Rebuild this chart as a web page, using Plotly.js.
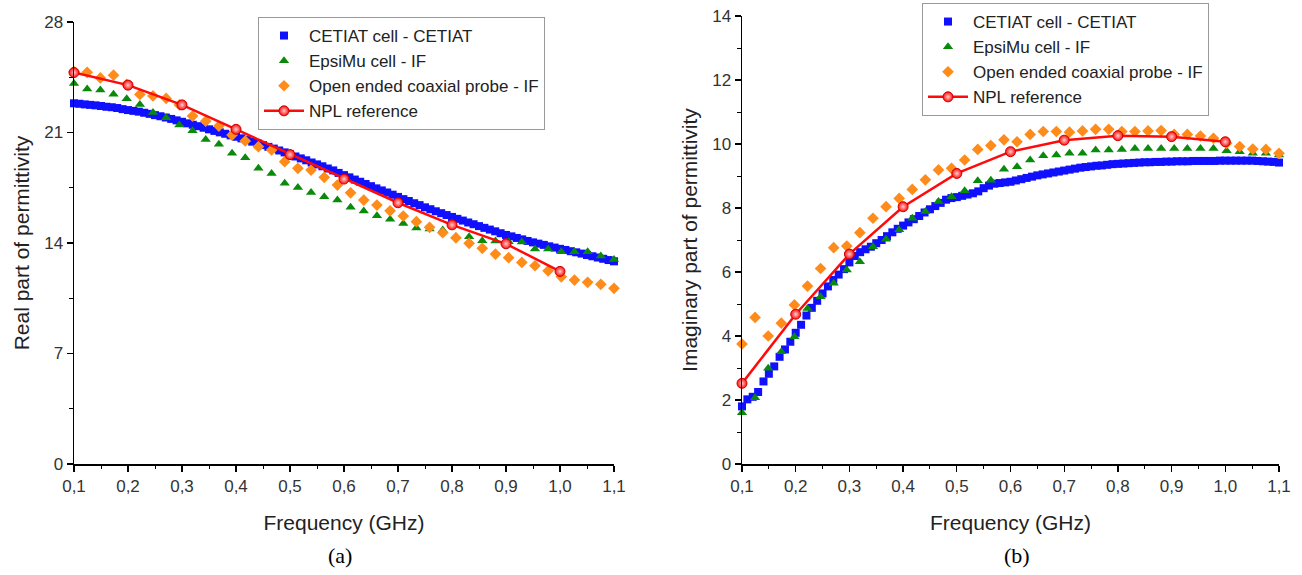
<!DOCTYPE html>
<html>
<head>
<meta charset="utf-8">
<script src="https://cdn.plot.ly/plotly-3.0.1.min.js"></script>
<style>html,body{margin:0;padding:0;background:#fff;}#chart{width:1302px;height:575px;}</style>
</head>
<body>
<div id="chart"></div>
<script>
// ---------- Data ----------
// dense frequency grid for the CETIAT cell (GHz)
const freqDense = [0.10,0.11,0.12,0.13,0.14,0.15,0.16,0.17,0.18,0.19,0.20,0.21,0.22,0.23,0.24,0.25,0.26,0.27,0.28,0.29,0.30,0.31,0.32,0.33,0.34,0.35,0.36,0.37,0.38,0.39,0.40,0.41,0.42,0.43,0.44,0.45,0.46,0.47,0.48,0.49,0.50,0.51,0.52,0.53,0.54,0.55,0.56,0.57,0.58,0.59,0.60,0.61,0.62,0.63,0.64,0.65,0.66,0.67,0.68,0.69,0.70,0.71,0.72,0.73,0.74,0.75,0.76,0.77,0.78,0.79,0.80,0.81,0.82,0.83,0.84,0.85,0.86,0.87,0.88,0.89,0.90,0.91,0.92,0.93,0.94,0.95,0.96,0.97,0.98,0.99,1.00,1.01,1.02,1.03,1.04,1.05,1.06,1.07,1.08,1.09,1.10];
// frequency grid for EpsiMu cell and coaxial probe (GHz)
const freqIF = [0.1000,0.1244,0.1488,0.1732,0.1976,0.2220,0.2463,0.2707,0.2951,0.3195,0.3439,0.3683,0.3927,0.4171,0.4415,0.4659,0.4902,0.5146,0.5390,0.5634,0.5878,0.6122,0.6366,0.6610,0.6854,0.7098,0.7341,0.7585,0.7829,0.8073,0.8317,0.8561,0.8805,0.9049,0.9293,0.9537,0.9780,1.0024,1.0268,1.0512,1.0756,1.1000];
// NPL reference frequencies (GHz)
const freqNPL = [0.1,0.2,0.3,0.4,0.5,0.6,0.7,0.8,0.9,1.0];

// (a) Real part of permittivity
const realCETIAT = [22.85,22.82,22.78,22.75,22.72,22.68,22.63,22.60,22.55,22.48,22.42,22.37,22.32,22.25,22.18,22.10,22.03,21.95,21.86,21.77,21.68,21.58,21.49,21.40,21.30,21.20,21.10,21.01,20.92,20.82,20.73,20.63,20.52,20.42,20.31,20.20,20.09,19.98,19.86,19.74,19.62,19.48,19.36,19.24,19.10,18.98,18.86,18.72,18.60,18.44,18.30,18.16,18.02,17.88,17.74,17.60,17.46,17.33,17.20,17.06,16.92,16.78,16.66,16.52,16.40,16.26,16.14,16.01,15.89,15.77,15.65,15.53,15.42,15.30,15.19,15.07,14.96,14.85,14.74,14.62,14.51,14.42,14.32,14.23,14.13,14.04,13.96,13.88,13.79,13.71,13.63,13.56,13.48,13.41,13.33,13.24,13.16,13.08,13.00,12.92,12.84];
const realEpsiMu = [24.11,23.75,23.69,23.43,23.14,22.78,22.27,21.93,21.47,21.11,20.56,20.25,19.68,19.40,18.73,18.41,17.78,17.52,17.20,16.93,16.72,16.26,16.02,15.73,15.50,15.24,14.95,14.88,14.82,14.40,14.40,14.14,14.12,14.08,14.06,13.62,13.62,13.45,13.45,13.45,13.17,12.95];
const realProbe = [24.85,24.81,24.46,24.63,24.05,23.41,23.32,23.16,22.75,22.04,21.72,21.41,20.84,20.46,20.10,19.89,19.15,18.73,18.62,18.16,17.67,17.18,16.72,16.40,16.04,15.71,15.35,14.99,14.65,14.33,13.98,13.66,13.30,13.07,12.77,12.56,12.24,11.86,11.65,11.51,11.38,11.13];
const realNPL = [24.8,24.0,22.75,21.2,19.6,18.05,16.55,15.15,13.95,12.2];

// (b) Imaginary part of permittivity
const imagCETIAT = [1.80,2.02,2.10,2.25,2.58,2.82,3.05,3.35,3.58,3.82,4.10,4.35,4.64,4.88,5.10,5.33,5.55,5.75,5.92,6.09,6.30,6.50,6.62,6.71,6.79,6.90,7.00,7.12,7.24,7.35,7.45,7.55,7.65,7.75,7.86,7.96,8.06,8.16,8.26,8.31,8.34,8.38,8.42,8.46,8.52,8.62,8.70,8.76,8.78,8.80,8.82,8.86,8.90,8.94,8.98,9.02,9.05,9.08,9.11,9.14,9.17,9.20,9.23,9.26,9.28,9.30,9.32,9.33,9.35,9.37,9.38,9.39,9.40,9.41,9.42,9.43,9.43,9.44,9.44,9.45,9.45,9.46,9.46,9.46,9.47,9.47,9.47,9.47,9.47,9.48,9.48,9.48,9.48,9.48,9.48,9.48,9.47,9.46,9.45,9.44,9.42];
const imagEpsiMu = [1.60,2.07,2.99,3.51,3.98,4.86,5.23,5.65,6.06,6.32,6.79,7.02,7.32,7.68,7.89,8.20,8.35,8.54,8.85,8.87,9.21,9.29,9.50,9.63,9.66,9.71,9.71,9.81,9.81,9.83,9.86,9.86,9.86,9.86,9.86,9.86,9.86,9.79,9.76,9.71,9.71,9.66];
const imagProbe = [3.75,4.58,4.00,4.40,4.97,5.56,6.11,6.76,6.81,7.23,7.68,8.04,8.30,8.58,8.88,9.19,9.24,9.50,9.83,9.95,10.13,10.07,10.30,10.39,10.39,10.37,10.41,10.46,10.46,10.39,10.39,10.41,10.42,10.30,10.30,10.25,10.18,10.02,9.92,9.84,9.83,9.71];
const imagNPL = [2.52,4.68,6.56,8.04,9.08,9.76,10.12,10.26,10.23,10.07];

const seriesNames = ['CETIAT cell - CETIAT','EpsiMu cell - IF','Open ended coaxial probe - IF','NPL reference'];

// ---------- Styles ----------
const FONT = 'Liberation Sans, Arial, sans-serif';
const BLUE = '#1010ff', GREEN = '#0a8a0a', ORANGE = '#ff8c1a', RED = '#ff0a0a';

function makeTraces(cet, eps, probe, npl, xa, ya, leg) {
  return [
    {x: freqDense, y: cet, name: seriesNames[0], mode: 'markers', xaxis: xa, yaxis: ya, legend: leg,
     marker: {symbol: 'square', size: 8, color: BLUE}, cliponaxis: false},
    {x: freqIF, y: eps, name: seriesNames[1], mode: 'markers', xaxis: xa, yaxis: ya, legend: leg,
     marker: {symbol: 'triangle-up', size: 9, color: GREEN}, cliponaxis: false},
    {x: freqIF, y: probe, name: seriesNames[2], mode: 'markers', xaxis: xa, yaxis: ya, legend: leg,
     marker: {symbol: 'diamond', size: 9, color: ORANGE}, cliponaxis: false},
    {x: freqNPL, y: npl, name: seriesNames[3], mode: 'lines+markers', xaxis: xa, yaxis: ya, legend: leg,
     line: {color: RED, width: 2.5},
     marker: {symbol: 'circle', size: 10, color: RED, line: {color: '#d00000', width: 1},
              gradient: {type: 'radial', color: '#ffd0d0'}}, cliponaxis: false}
  ];
}

const data = [].concat(
  makeTraces(realCETIAT, realEpsiMu, realProbe, realNPL, 'x', 'y', 'legend'),
  makeTraces(imagCETIAT, imagEpsiMu, imagProbe, imagNPL, 'x2', 'y2', 'legend2')
);

const W = 1302, H = 575;
function xAxis(dom, anchor) {
  return {
    domain: dom, anchor: anchor, range: [0.1, 1.1], dtick: 0.1, tick0: 0.1, tickformat: '.1f',
    showline: true, linecolor: '#000', linewidth: 1.5, mirror: false, showgrid: false, zeroline: false,
    ticks: 'outside', ticklen: 6, tickwidth: 1.2, tickcolor: '#000',
    minor: {dtick: 0.05, tick0: 0.1, ticks: 'outside', ticklen: 3.5, tickwidth: 1, tickcolor: '#000', showgrid: false},
    tickfont: {family: FONT, size: 17, color: '#333'},
    title: {text: 'Frequency (GHz)', font: {family: FONT, size: 21, color: '#222'}, standoff: 20},
    automargin: false, fixedrange: true
  };
}
function yAxis(dom, anchor, range, dt, mdt, title, standoff) {
  return {
    domain: dom, anchor: anchor, range: range, dtick: dt, tick0: 0,
    showline: true, linecolor: '#000', linewidth: 1.5, mirror: false, showgrid: false, zeroline: false,
    ticks: 'outside', ticklen: 6, tickwidth: 1.2, tickcolor: '#000',
    minor: {dtick: mdt, tick0: 0, ticks: 'outside', ticklen: 3.5, tickwidth: 1, tickcolor: '#000', showgrid: false},
    tickfont: {family: FONT, size: 17, color: '#333'},
    title: {text: title, font: {family: FONT, size: 21, color: '#222'}, standoff: standoff},
    automargin: false, fixedrange: true
  };
}

const layout = {
  width: W, height: H,
  margin: {l: 0, r: 0, t: 0, b: 0},
  paper_bgcolor: '#fff', plot_bgcolor: '#fff',
  separators: ',.',
  showlegend: true,
  xaxis: xAxis([74 / W, 614 / W], 'y'),
  yaxis: yAxis([1 - 464 / H, 1 - 22 / H], 'x', [0, 28], 7, 3.5, 'Real part of permittivity', 9),
  xaxis2: xAxis([742 / W, 1279 / W], 'y2'),
  yaxis2: yAxis([1 - 464 / H, 1 - 16 / H], 'x2', [0, 14], 2, 1, 'Imaginary part of permittivity', 9),
  legend: {x: 258 / W, y: 1 - 17 / H, xanchor: 'left', yanchor: 'top',
           bgcolor: '#fff', bordercolor: '#999', borderwidth: 1,
           font: {family: FONT, size: 17, color: '#222'}, itemwidth: 40, tracegroupgap: 0},
  legend2: {x: 922 / W, y: 1 - 3 / H, xanchor: 'left', yanchor: 'top',
            bgcolor: '#fff', bordercolor: '#999', borderwidth: 1,
            font: {family: FONT, size: 17, color: '#222'}, itemwidth: 40, tracegroupgap: 0},
  annotations: [
    {text: '(a)', xref: 'paper', yref: 'paper', x: 340 / W, y: 1 - 555 / H, xanchor: 'center', yanchor: 'middle',
     showarrow: false, font: {family: 'Liberation Serif, Times New Roman, serif', size: 22, color: '#000'}},
    {text: '(b)', xref: 'paper', yref: 'paper', x: 1017 / W, y: 1 - 555 / H, xanchor: 'center', yanchor: 'middle',
     showarrow: false, font: {family: 'Liberation Serif, Times New Roman, serif', size: 22, color: '#000'}}
  ]
};

Plotly.newPlot('chart', data, layout, {displayModeBar: false, staticPlot: true});
</script>
</body>
</html>
